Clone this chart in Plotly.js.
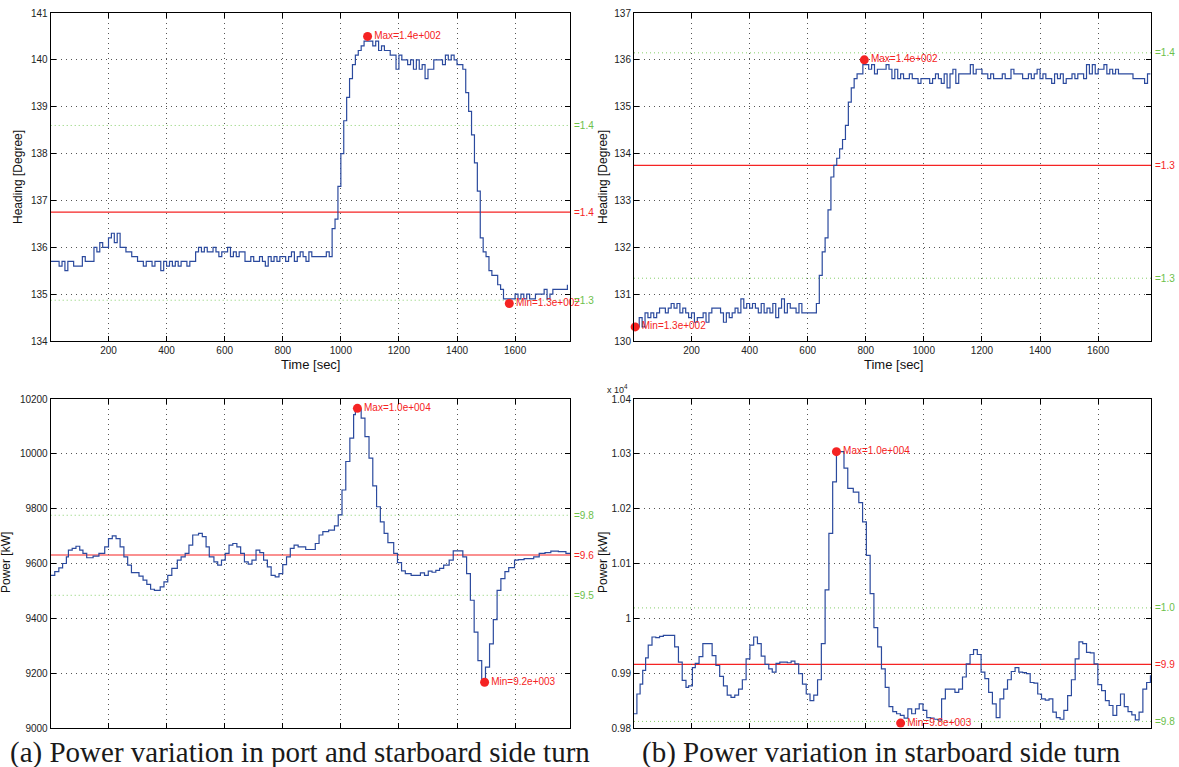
<!DOCTYPE html>
<html>
<head>
<meta charset="utf-8">
<script src="https://cdn.plot.ly/plotly-3.0.1.min.js"></script>
<style>html,body{margin:0;padding:0;background:#fff;}#chart{width:1179px;height:767px;}</style>
</head>
<body>
<div id="chart"></div>
<script>
// ---------- DATA ----------
// (a) heading, port and starboard turn: samples every 10 s starting at t = 0
const headingA = [
135.7,135.7,135.7,135.6,135.7,135.5,135.7,135.7,135.6,135.6,
135.6,135.8,135.7,135.7,135.7,136.0,135.9,136.1,136.0,136.0,
136.2,136.3,136.1,136.3,136.0,136.0,135.9,135.9,135.8,135.8,
135.7,135.7,135.6,135.7,135.7,135.6,135.7,135.7,135.5,135.7,
135.6,135.7,135.6,135.7,135.6,135.7,135.7,135.6,135.7,135.7,
135.9,136.0,135.9,136.0,135.9,135.9,136.0,135.9,135.8,135.9,
135.9,136.0,135.8,135.9,135.8,135.9,135.9,135.7,135.7,135.8,
135.7,135.7,135.8,135.7,135.6,135.8,135.7,135.8,135.7,135.8,
135.8,135.7,135.8,135.9,135.7,135.8,135.9,135.8,135.7,135.9,
135.8,135.8,135.8,135.8,135.8,135.9,135.8,136.4,136.6,137.3,
138.0,138.7,139.2,139.6,139.9,140.1,140.2,140.3,140.4,140.4,
140.4,140.3,140.4,140.2,140.3,140.2,140.2,140.1,140.1,139.8,
140.1,140.0,140.0,139.9,140.0,139.8,140.0,139.8,139.9,139.6,
139.8,139.8,140.0,140.0,140.0,139.9,140.1,140.0,140.1,140.0,
139.9,139.9,139.8,139.3,138.9,138.4,137.8,137.2,136.2,135.9,
135.8,135.5,135.4,135.4,135.2,135.1,134.9,134.9,134.9,134.9,
135.0,134.9,135.0,134.9,135.0,134.9,134.9,135.0,135.0,135.0,
135.1,134.9,135.0,135.1,135.1,135.1,135.1,135.1,135.2
];
// (b) heading, starboard turn: samples every 10 s starting at t = 0
const headingB = [
130.3,130.3,130.5,130.3,130.6,130.5,130.6,130.5,130.6,130.7,
130.7,130.6,130.7,130.8,130.7,130.8,130.6,130.7,130.6,130.5,
130.6,130.4,130.5,130.5,130.6,130.4,130.6,130.7,130.7,130.7,
130.6,130.4,130.6,130.5,130.6,130.7,130.6,130.9,130.7,130.8,
130.7,130.8,130.7,130.6,130.8,130.6,130.7,130.6,130.8,130.5,
130.7,130.9,130.6,130.8,130.7,130.7,130.6,130.8,130.6,130.6,
130.6,130.6,130.6,130.8,131.4,131.9,132.2,132.8,133.5,133.75,
133.9,134.1,134.3,134.6,135.1,135.4,135.6,135.7,135.7,135.9,
135.9,135.8,135.9,135.7,135.8,135.8,135.8,135.9,135.8,135.6,
135.8,135.6,135.7,135.6,135.6,135.7,135.6,135.6,135.5,135.6,
135.6,135.6,135.5,135.6,135.7,135.6,135.5,135.7,135.4,135.7,
135.8,135.5,135.7,135.7,135.7,135.7,135.9,135.7,135.8,135.8,
135.7,135.7,135.6,135.7,135.6,135.6,135.6,135.7,135.6,135.6,
135.8,135.7,135.7,135.7,135.6,135.6,135.7,135.6,135.7,135.8,
135.6,135.7,135.6,135.6,135.5,135.7,135.6,135.7,135.5,135.6,
135.6,135.7,135.6,135.7,135.7,135.6,135.9,135.7,135.9,135.7,
135.8,135.8,135.9,135.7,135.8,135.7,135.8,135.7,135.7,135.7,
135.7,135.7,135.6,135.6,135.6,135.6,135.5,135.7,135.7
];
const sampleStep = 10;

// (a) power: step times [sec] and values [kW]
const powerATime = [
1,15,29,42,55,62,75,88,101,112,
125,147,167,187,200,213,226,240,253,266,
279,305,319,332,345,358,378,391,404,418,
437,450,464,477,490,510,523,536,547,563,
576,589,602,615,628,642,655,668,681,694,
708,721,734,747,760,774,787,800,813,826,
839,853,879,912,925,938,958,978,991,1004,
1017,1031,1044,1050,1070,1083,1097,1110,1123,1136,
1149,1162,1182,1195,1209,1222,1242,1274,1288,1301,
1314,1327,1340,1354,1373,1387,1406,1420,1433,1446,
1459,1472,1485,1498,1512,1525,1538,1551,1565,1578,
1598,1611,1631,1664,1683,1703,1723,1749,1775,1789];
const powerA = [
9557,9570,9584,9600,9624,9649,9655,9663,9649,9637,
9621,9627,9637,9661,9691,9701,9691,9661,9624,9594,
9567,9554,9539,9524,9506,9502,9515,9533,9557,9582,
9612,9624,9637,9667,9704,9710,9698,9661,9624,9606,
9594,9612,9637,9667,9673,9661,9637,9606,9598,9612,
9649,9640,9612,9588,9557,9551,9563,9596,9624,9655,
9667,9661,9651,9673,9704,9716,9722,9737,9777,9868,
9972,10057,10143,10161,10130,10063,9984,9883,9807,9752,
9710,9676,9637,9603,9573,9563,9557,9566,9557,9572,
9568,9575,9582,9594,9612,9646,9646,9624,9563,9466,
9350,9246,9173,9222,9307,9395,9502,9545,9570,9585,
9612,9614,9618,9624,9637,9640,9645,9643,9637,9637];

// (b) power: step times [sec] and values [kW]
const powerBTime = [
2,12,23,32,42,51,64,77,90,103,
142,155,168,181,190,203,213,226,239,252,
271,284,297,310,323,336,349,362,375,388,
401,414,427,440,453,466,478,491,504,530,
543,556,569,582,595,608,621,634,647,660,
673,686,699,712,725,738,757,776,789,802,
815,828,841,854,867,880,893,906,919,932,
945,958,971,984,997,1010,1023,1035,1048,1061,
1074,1087,1107,1120,1133,1146,1159,1171,1184,1197,
1210,1223,1236,1249,1262,1275,1288,1301,1314,1327,
1340,1353,1366,1379,1392,1405,1418,1431,1444,1456,
1469,1482,1495,1508,1521,1534,1547,1560,1573,1586,
1599,1612,1625,1638,1651,1664,1677,1690,1703,1716,
1728,1741,1754,1767,1780,1789];
const powerB = [
9826,9862,9880,9905,9928,9951,9966,9965,9967,9969,
9948,9920,9887,9874,9877,9910,9918,9930,9954,9954,
9932,9914,9894,9877,9860,9856,9860,9871,9888,9926,
9951,9966,9954,9931,9916,9908,9902,9918,9920,9919,
9922,9917,9899,9880,9862,9850,9860,9888,9954,10052,
10155,10249,10304,10304,10274,10237,10230,10211,10176,10115,
10045,9983,9948,9908,9874,9839,9830,9826,9823,9818,
9835,9826,9835,9844,9832,9819,9818,9816,9815,9853,
9871,9871,9865,9871,9893,9917,9934,9943,9934,9902,
9890,9865,9844,9819,9853,9871,9888,9903,9910,9902,
9901,9899,9883,9882,9862,9853,9851,9853,9829,9819,
9816,9832,9859,9888,9926,9957,9954,9938,9937,9917,
9879,9868,9850,9841,9823,9841,9862,9839,9830,9824,
9815,9829,9871,9883,9895,9895];

// extreme-value markers [time, value] and their labels
const maxA_H = [1092, 140.5], minA_H = [1580, 134.8];
const maxB_H = [795, 136.0],  minB_H = [6, 130.3];
const maxA_P = [1057, 10166], minA_P = [1495, 9167];
const maxB_P = [699, 10304],  minB_P = [920, 9809];
const maxLabels = ['Max=1.4e+002','Max=1.4e+002','Max=1.0e+004','Max=1.0e+004'];
const minLabels = ['Min=1.3e+002','Min=1.3e+002','Min=9.2e+003','Min=9.8e+003'];

// reference levels (mean, upper, lower) and their labels
const levelsAH = [136.75, 138.6, 134.87];  const levelTextAH = ['=1.4','=1.4','=1.3'];
const levelsBH = [133.75, 136.15, 131.34]; const levelTextBH = ['=1.3','=1.4','=1.3'];
const levelsAP = [9631, 9776, 9484];       const levelTextAP = ['=9.6','=9.8','=9.5'];
const levelsBP = [9916, 10019, 9812];      const levelTextBP = ['=9.9','=1.0','=9.8'];

const powerBTicks = [9800,9900,10000,10100,10200,10300,10400];
const powerBTickText = ['0.98','0.99','1','1.01','1.02','1.03','1.04'];

const captionA = '(a) Power variation in port and starboard side turn';
const captionB = '(b) Power variation in starboard side turn';

// ---------- STYLE / LAYOUT ----------
const W = 1179, H = 767;
const px = v => v / W, py = v => 1 - v / H;
const BLUE = '#2b4a9e', RED = '#f52323', GREEN = '#6cc04a', GREENLINE = '#86cf6a';
const tickFont = {family: 'Liberation Sans, Arial, sans-serif', size: 10, color: '#222'};

function axisBase(extra) {
  return Object.assign({
    showline: true, linecolor: '#000', linewidth: 1, mirror: 'ticks',
    ticks: 'inside', ticklen: 5, tickcolor: '#000', tickwidth: 1,
    showgrid: true, gridcolor: '#555', griddash: '1px,4px', gridwidth: 1,
    zeroline: false, tickfont: tickFont, fixedrange: true, tickformat: 'd'
  }, extra);
}

const line = {color: BLUE, width: 1.2, shape: 'hv'};
const traces = [
  {x0: 0, dx: sampleStep, y: headingA, xaxis: 'x', yaxis: 'y', type: 'scatter', mode: 'lines', line: line},
  {x0: 0, dx: sampleStep, y: headingB, xaxis: 'x2', yaxis: 'y2', type: 'scatter', mode: 'lines', line: line},
  {x: powerATime, y: powerA, xaxis: 'x3', yaxis: 'y3', type: 'scatter', mode: 'lines', line: line},
  {x: powerBTime, y: powerB, xaxis: 'x4', yaxis: 'y4', type: 'scatter', mode: 'lines', line: line}
];
const ext = [[maxA_H, minA_H, '', ''], [maxB_H, minB_H, '2', '2'], [maxA_P, minA_P, '3', '3'], [maxB_P, minB_P, '4', '4']];
ext.forEach((e, i) => {
  traces.push({
    x: [e[0][0], e[1][0]], y: [e[0][1], e[1][1]], text: [maxLabels[i], minLabels[i]],
    xaxis: 'x' + e[2], yaxis: 'y' + e[3], type: 'scatter', mode: 'markers+text',
    textposition: 'middle right', cliponaxis: false,
    marker: {size: 9, color: RED},
    textfont: {family: 'Liberation Sans, Arial, sans-serif', size: 10, color: RED}
  });
});

const shapes = [], annotations = [];
function addLevels(levels, texts, ax) {
  levels.forEach((v, i) => {
    const mean = i === 0;
    shapes.push({type: 'line', xref: 'x' + ax + ' domain', x0: 0, x1: 1, yref: 'y' + ax, y0: v, y1: v,
      line: mean ? {color: RED, width: 1.2} : {color: GREENLINE, width: 1, dash: '1px,3px'}, layer: 'below'});
    annotations.push({xref: 'x' + ax + ' domain', x: 1, xanchor: 'left', xshift: 2, yref: 'y' + ax, y: v,
      yanchor: 'middle', text: texts[i], showarrow: false,
      font: {family: 'Liberation Sans, Arial, sans-serif', size: 10, color: mean ? RED : GREEN}});
  });
}
addLevels(levelsAH, levelTextAH, '');
addLevels(levelsBH, levelTextBH, '2');
addLevels(levelsAP, levelTextAP, '3');
addLevels(levelsBP, levelTextBP, '4');

const titleFont = {family: 'Liberation Sans, Arial, sans-serif', size: 12, color: '#111'};
function ann(x, y, text, font, extra) {
  annotations.push(Object.assign({xref: 'paper', yref: 'paper', x: px(x), y: py(y), text: text,
    showarrow: false, xanchor: 'center', yanchor: 'middle', font: font}, extra || {}));
}
ann(18, 177, 'Heading [Degree]', titleFont, {textangle: -90});
ann(603, 177, 'Heading [Degree]', titleFont, {textangle: -90});
ann(6, 563, 'Power [kW]', titleFont, {textangle: -90});
ann(603, 563, 'Power [kW]', titleFont, {textangle: -90});
ann(310, 364, 'Time [sec]', {family: 'Liberation Sans, Arial, sans-serif', size: 13, color: '#111'});
ann(893, 364, 'Time [sec]', {family: 'Liberation Sans, Arial, sans-serif', size: 13, color: '#111'});
ann(617, 389, 'x 10<sup>4</sup>', {family: 'Liberation Sans, Arial, sans-serif', size: 9, color: '#222'});
const capFont = {family: 'Liberation Serif, Times New Roman, serif', size: 29, color: '#1a1a1a'};
ann(8, 752, captionA, capFont, {xanchor: 'left'});
ann(640, 752, captionB, capFont, {xanchor: 'left'});

const xL = [px(50.7), px(570)], xR = [px(634), px(1151)];
const yT = [py(341), py(13)], yB = [py(728), py(399)];
const layout = {
  width: W, height: H, margin: {l: 0, r: 0, t: 0, b: 0},
  paper_bgcolor: '#fff', plot_bgcolor: '#fff', showlegend: false,
  xaxis:  axisBase({domain: xL, range: [1, 1789], dtick: 200, tick0: 0, anchor: 'y'}),
  yaxis:  axisBase({domain: yT, range: [134, 141], dtick: 1, anchor: 'x'}),
  xaxis2: axisBase({domain: xR, range: [2, 1782], dtick: 200, tick0: 0, anchor: 'y2'}),
  yaxis2: axisBase({domain: yT, range: [130, 137], dtick: 1, anchor: 'x2'}),
  xaxis3: axisBase({domain: xL, range: [1, 1789], dtick: 200, tick0: 0, anchor: 'y3', showticklabels: false}),
  yaxis3: axisBase({domain: yB, range: [9000, 10200], dtick: 200, anchor: 'x3'}),
  xaxis4: axisBase({domain: xR, range: [2, 1782], dtick: 200, tick0: 0, anchor: 'y4', showticklabels: false}),
  yaxis4: axisBase({domain: yB, range: [9800, 10400], tickvals: powerBTicks, ticktext: powerBTickText, anchor: 'x4'}),
  shapes: shapes, annotations: annotations
};
Plotly.newPlot('chart', traces, layout, {displayModeBar: false, staticPlot: true});
</script>
</body>
</html>
